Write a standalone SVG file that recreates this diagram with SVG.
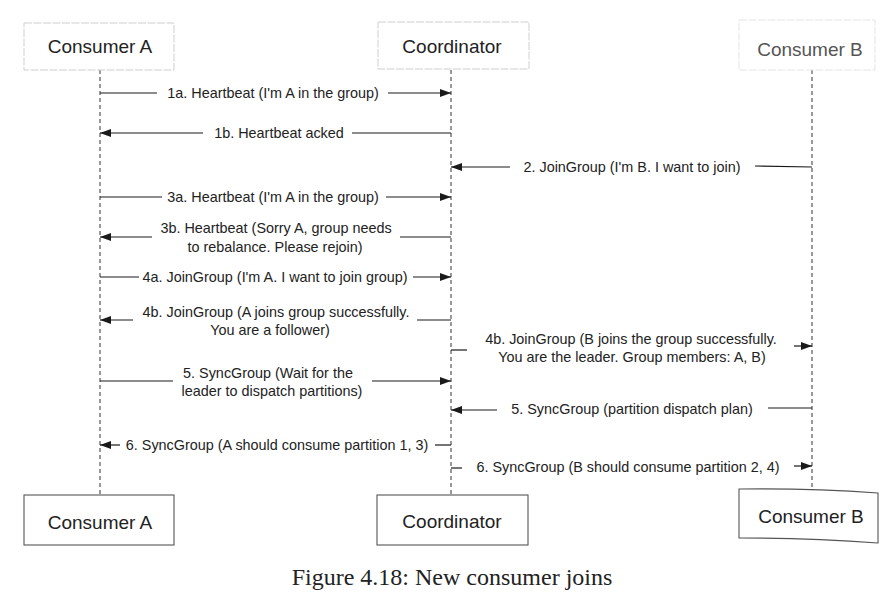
<svg xmlns="http://www.w3.org/2000/svg" width="894" height="592" viewBox="0 0 894 592">
<defs>
<marker id="ah" markerUnits="userSpaceOnUse" markerWidth="12" markerHeight="10" refX="11" refY="4" orient="auto">
<path d="M0,0 L11,4 L0,8 Z" fill="#1a1a1a"/>
</marker>
<style>
.box-top{fill:#fff;stroke:#cfcfcf;stroke-width:1;stroke-dasharray:8 1.5}
.box-bot{fill:#fff;stroke:#555;stroke-width:1.1}
.name{font-family:"Liberation Sans",Arial,sans-serif;font-size:19px;fill:#222;text-anchor:middle}
.name-light{font-family:"Liberation Sans",Arial,sans-serif;font-size:19px;fill:#555;text-anchor:middle}
.life{stroke:#333;stroke-width:1;stroke-dasharray:4 3;fill:none}
.msg{stroke:#1a1a1a;stroke-width:1.2;fill:none}
.arr{stroke:#1a1a1a;stroke-width:1.2;fill:none;marker-end:url(#ah)}
.lbl{font-family:"Liberation Sans",Arial,sans-serif;font-size:14.4px;fill:#222;text-anchor:middle}
.cap{font-family:"Liberation Serif","Times New Roman",serif;font-size:24px;fill:#222;text-anchor:middle}
</style>
</defs>
<rect width="894" height="592" fill="#fff"/>

<g id="lifelines">
<line class="life" x1="100" y1="70" x2="100" y2="495"/>
<line class="life" x1="451" y1="70" x2="451" y2="495"/>
<line class="life" x1="812" y1="70" x2="812" y2="490"/>
</g>

<g id="consumerA-top">
<rect class="box-top" x="24" y="23" width="150" height="47"/>
<text class="name" x="100" y="53">Consumer A</text>
</g>
<g id="coordinator-top">
<rect class="box-top" x="378" y="22" width="151" height="47"/>
<text class="name" x="452" y="53">Coordinator</text>
</g>
<g id="consumerB-top">
<rect class="box-top" x="739" y="20" width="136" height="50" style="stroke:#e4e4e4"/>
<text class="name-light" x="810" y="56">Consumer B</text>
</g>

<g id="consumerA-bottom">
<rect class="box-bot" x="24" y="495" width="150" height="50"/>
<text class="name" x="100" y="529">Consumer A</text>
</g>
<g id="coordinator-bottom">
<rect class="box-bot" x="377" y="495" width="151" height="50"/>
<text class="name" x="452" y="528">Coordinator</text>
</g>
<g id="consumerB-bottom">
<path class="box-bot" d="M739,489 Q810,488 878,493 L878,543 Q810,538 739,538 Z"/>
<text class="name" x="811" y="523">Consumer B</text>
</g>

<g id="connectors">
<!-- 1a -->
<line class="msg" x1="100" y1="93" x2="157" y2="93"/>
<text class="lbl" x="273" y="98">1a. Heartbeat (I'm A in the group)</text>
<line class="arr" x1="388" y1="93" x2="451" y2="93"/>
<!-- 1b -->
<line class="arr" x1="203" y1="133" x2="100" y2="133"/>
<text class="lbl" x="279" y="138">1b. Heartbeat acked</text>
<line class="msg" x1="352" y1="133" x2="451" y2="133"/>
<!-- 2 -->
<line class="arr" x1="510" y1="167" x2="451" y2="167"/>
<text class="lbl" x="632" y="172">2. JoinGroup (I'm B. I want to join)</text>
<line class="msg" x1="755" y1="166" x2="812" y2="167"/>
<!-- 3a -->
<line class="msg" x1="100" y1="197" x2="162" y2="197"/>
<text class="lbl" x="273" y="202">3a. Heartbeat (I'm A in the group)</text>
<line class="arr" x1="386" y1="197" x2="451" y2="197"/>
<!-- 3b -->
<line class="arr" x1="152" y1="237" x2="100" y2="237"/>
<text class="lbl" x="276" y="233">3b. Heartbeat (Sorry A, group needs</text>
<text class="lbl" x="275" y="252">to rebalance. Please rejoin)</text>
<line class="msg" x1="400" y1="237" x2="451" y2="237"/>
<!-- 4a -->
<line class="msg" x1="100" y1="277" x2="139" y2="277"/>
<text class="lbl" x="275" y="282">4a. JoinGroup (I'm A. I want to join group)</text>
<line class="arr" x1="413" y1="277" x2="451" y2="277"/>
<!-- 4b A -->
<line class="arr" x1="133" y1="320" x2="100" y2="320"/>
<text class="lbl" x="276" y="317">4b. JoinGroup (A joins group successfully.</text>
<text class="lbl" x="270" y="335">You are a follower)</text>
<line class="msg" x1="417" y1="320" x2="451" y2="320"/>
<!-- 4b B -->
<line class="msg" x1="451" y1="350" x2="467" y2="350"/>
<text class="lbl" x="631" y="344">4b. JoinGroup (B joins the group successfully.</text>
<text class="lbl" x="632" y="362">You are the leader. Group members: A, B)</text>
<line class="arr" x1="794" y1="346" x2="812" y2="346"/>
<!-- 5 A -->
<line class="msg" x1="100" y1="381" x2="173" y2="381"/>
<text class="lbl" x="268" y="378">5. SyncGroup (Wait for the</text>
<text class="lbl" x="272" y="396">leader to dispatch partitions)</text>
<line class="arr" x1="372" y1="381" x2="451" y2="381"/>
<!-- 5 B -->
<line class="arr" x1="497" y1="410" x2="451" y2="410"/>
<text class="lbl" x="632" y="414">5. SyncGroup (partition dispatch plan)</text>
<line class="msg" x1="768" y1="408" x2="812" y2="408"/>
<!-- 6 A -->
<line class="arr" x1="120" y1="445" x2="100" y2="445"/>
<text class="lbl" x="277" y="450">6. SyncGroup (A should consume partition 1, 3)</text>
<line class="msg" x1="435" y1="445" x2="451" y2="445"/>
<!-- 6 B -->
<line class="msg" x1="451" y1="468" x2="462" y2="468"/>
<text class="lbl" x="628" y="472">6. SyncGroup (B should consume partition 2, 4)</text>
<line class="arr" x1="794" y1="466" x2="812" y2="466"/>
</g>

<text class="cap" x="452" y="585">Figure 4.18: New consumer joins</text>
</svg>
